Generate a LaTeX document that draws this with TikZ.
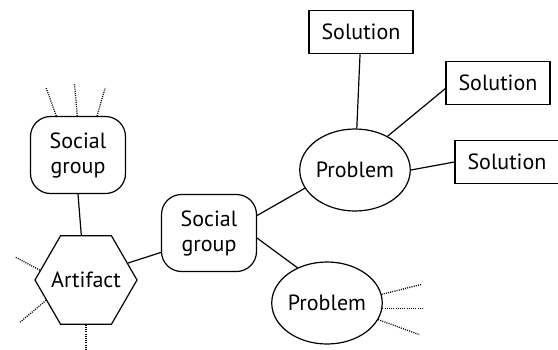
\documentclass[tikz,border=0pt]{standalone}
\usepackage{fontspec}
\setmainfont{PT Sans}
\usetikzlibrary{shapes.geometric}

\tikzset{every node/.style={font=\fontsize{22}{25}\selectfont},
             group/.style={draw, rounded corners=20pt, minimum width=95pt, minimum height=77pt, align=center, inner sep=0pt},
               hex/.style={draw, regular polygon, regular polygon sides=6, minimum size=102pt, inner sep=0pt},
           problem/.style={draw, ellipse, minimum width=98pt, minimum height=82pt, inner sep=0pt},
          solution/.style={draw, minimum width=104pt, minimum height=43pt, inner sep=0pt},
              dots/.style={dash pattern=on 1pt off 1.2pt, line width=1.3pt}}

\begin{document}
\begin{tikzpicture}[x=1pt, y=-1pt, line width=1.2pt]
        \useasboundingbox (0,0) rectangle (558,349);

        \node[group]    at ( 78, 155) (grouptop)   {Social\\group};
        \node[hex, label=center:Artifact] at ( 86, 280) (artifact) {};
        \node[group]    at (209, 233) (groupmid)   {Social\\group};
        \node[problem]  at (355, 170) (problemtop) {Problem};
        \node[problem]  at (327, 303) (problembot) {Problem};
        \node[solution] at (361,  32) (solone)     {Solution};
        \node[solution] at (498,  83) (soltwo)     {Solution};
        \node[solution] at (507, 162) (solthree)   {Solution};

        \draw (grouptop.south) -- (artifact.96);
        \draw (artifact.22)    -- (groupmid.202);
        \draw (groupmid.20)    -- (problemtop.200);
        \draw (groupmid.-6)    -- (problembot.130);
        \draw (problemtop)     -- (solone);
        \draw (problemtop.46)  -- (soltwo.186);
        \draw (problemtop.east) -- (solthree.west);

        % loose ends
        \foreach \a/\d/\l in {119/110/30, 91/95/32, 64/74/29}
            \draw[dots] (grouptop.\a) -- ++(\d:\l pt);
        \foreach \a/\d/\l in {168/152/28, 207/220/35, 270/270/26}
            \draw[dots] (artifact.\a) -- ++(\d:\l pt);
        \foreach \a/\d/\l in {9/14/41, -6/0/40, -18/-20/44}
            \draw[dots] (problembot.\a) -- ++(\d:\l pt);
\end{tikzpicture}
\end{document}
